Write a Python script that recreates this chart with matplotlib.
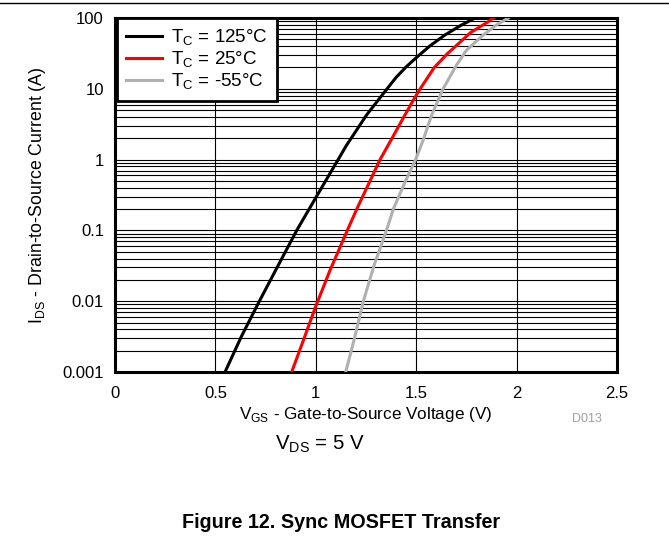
import numpy as np
import matplotlib.pyplot as plt
from matplotlib.lines import Line2D

plt.rcParams['font.family'] = ['Liberation Sans', 'DejaVu Sans']
plt.rcParams['mathtext.fontset'] = 'custom'
plt.rcParams['mathtext.rm'] = 'Liberation Sans'

vgs_125 = [0.548, 0.63, 0.719, 0.81, 0.905, 1.0, 1.071, 1.154, 1.253, 1.305, 1.355, 1.40, 1.45, 1.5, 1.57, 1.643, 1.72, 1.793]
ids_125 = [0.001, 0.0032, 0.01, 0.031, 0.1, 0.29, 0.64, 1.61, 4.27, 6.6, 10, 14.5, 20.4, 27.5, 40.7, 57.5, 78, 100]

vgs_25 = [0.88, 0.94, 1.0, 1.07, 1.157, 1.204, 1.32, 1.361, 1.444, 1.486, 1.52, 1.59, 1.657, 1.685, 1.77, 1.859, 1.884]
ids_25 = [0.001, 0.0029, 0.0085, 0.027, 0.1, 0.2, 1.0, 1.61, 4.27, 6.95, 10, 20, 31.7, 37.3, 62, 88.7, 100]

vgs_m55 = [1.149, 1.19, 1.237, 1.29, 1.352, 1.386, 1.447, 1.497, 1.535, 1.577, 1.61, 1.634, 1.701, 1.75, 1.834, 1.90, 1.959]
ids_m55 = [0.001, 0.0028, 0.01, 0.032, 0.1, 0.2, 0.5, 1.0, 1.9, 4.27, 6.95, 10, 21.7, 35, 57.5, 80, 100]

labels = ['T$_\\mathrm{C}$ = 125°C', 'T$_\\mathrm{C}$ = 25°C', 'T$_\\mathrm{C}$ = -55°C']
colors = ['black', '#ff0000', '#b0b0b0']

fig = plt.figure(figsize=(6.69, 5.39), dpi=100)
ax = fig.add_axes([115/669, 1 - 372/539, 502/669, 354/539])

ax.plot(vgs_125, ids_125, color=colors[0], lw=2.2, label=labels[0], zorder=3)
ax.plot(vgs_25, ids_25, color=colors[1], lw=2.2, label=labels[1], zorder=3)
ax.plot(vgs_m55, ids_m55, color=colors[2], lw=2.2, label=labels[2], zorder=3)

ax.set_yscale('log')
ax.set_xlim(0, 2.5)
ax.set_ylim(0.001, 100)
ax.set_xticks([0, 0.5, 1, 1.5, 2, 2.5])
ax.set_xticklabels(['0', '0.5', '1', '1.5', '2', '2.5'])
ax.set_yticks([0.001, 0.01, 0.1, 1, 10, 100])
ax.set_yticklabels(['0.001', '0.01', '0.1', '1', '10', '100'])
ax.tick_params(which='both', length=0, labelsize=12)
ax.tick_params(axis='x', pad=10)
ax.tick_params(axis='y', pad=8)
ax.grid(True, which='major', color='black', lw=0.8)
ax.grid(True, which='minor', axis='y', color='black', lw=0.8)
for s in ax.spines.values():
    s.set_linewidth(2.2)

ax.set_xlabel('V$_\\mathrm{GS}$ - Gate-to-Source Voltage (V)', fontsize=12.3, labelpad=3)
ax.set_ylabel('I$_\\mathrm{DS}$ - Drain-to-Source Current (A)', fontsize=12.8, labelpad=10)

leg = ax.legend(loc='upper left', bbox_to_anchor=(0.003, 1.0), fontsize=13.5,
                frameon=True, fancybox=False, borderaxespad=0, handlelength=1.9,
                handletextpad=0.5, labelspacing=0.1, borderpad=0.5)
leg.get_frame().set_edgecolor('black')
leg.get_frame().set_linewidth(2)
leg.get_frame().set_alpha(1)
leg.set_zorder(5)

fig.add_artist(Line2D([0, 1], [1 - 3/539, 1 - 3/539], color='black', lw=1))
fig.text(587/669, 1 - 419/539, 'D013', color='#a0a0a0', fontsize=9, ha='center', va='center')
fig.text(320/669, 1 - 444/539, 'V$_\\mathrm{DS}$ = 5 V', fontsize=14.7, ha='center', va='center')
fig.text(341/669, 1 - 522/539, 'Figure 12. Sync MOSFET Transfer', fontsize=14.2,
         fontweight='bold', ha='center', va='center')

fig.savefig('out.png', dpi=100)
